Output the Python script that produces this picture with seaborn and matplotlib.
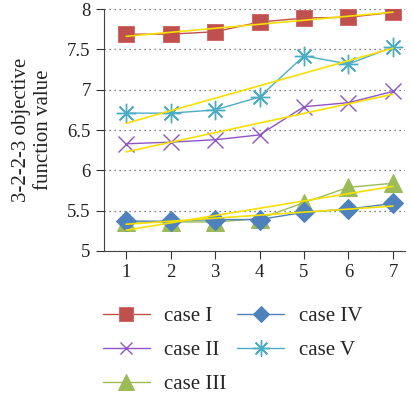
import numpy as np
import pandas as pd
import matplotlib
matplotlib.use('Agg')
import matplotlib.pyplot as plt
import seaborn as sns

# data
steps = [1, 2, 3, 4, 5, 6, 7]
case_1 = [7.69, 7.69, 7.72, 7.84, 7.89, 7.90, 7.96]
case_2 = [6.33, 6.35, 6.38, 6.44, 6.79, 6.84, 6.98]
case_3 = [5.36, 5.36, 5.36, 5.40, 5.60, 5.79, 5.84]
case_4 = [5.37, 5.37, 5.39, 5.39, 5.48, 5.52, 5.59]
case_5 = [6.71, 6.71, 6.75, 6.91, 7.42, 7.32, 7.53]
labels = ['case I', 'case II', 'case III', 'case IV', 'case V']

sns.set_style('ticks')
plt.rcParams['font.family'] = ['Liberation Serif', 'DejaVu Serif']

fig = plt.figure(figsize=(4.12, 3.99), dpi=100)
ax = fig.add_axes([0.252, 0.371, 0.731, 0.606])

styles = [
    dict(color='#C0504D', marker='s', markersize=12, markeredgecolor='#D06A66'),
    dict(color='#9055C4', marker='x', markersize=11, markeredgewidth=1.0, markeredgecolor='#9055C4'),
    dict(color='#9BBB59', marker='^', markersize=13, markeredgecolor='#9BBB59'),
    dict(color='#4F81BD', marker='D', markersize=10, markeredgecolor='#4F81BD'),
    dict(color='#4BACC6', marker=(8, 2, 0), markersize=14, markeredgewidth=1.0, markeredgecolor='#4BACC6'),
]
series = [case_1, case_2, case_3, case_4, case_5]

for vals, lab, st in zip(series, labels, styles):
    sns.lineplot(x=steps, y=vals, ax=ax, label=lab, linewidth=1.0, **st)

# yellow linear trend for each case
for vals in series:
    sns.regplot(x=np.array(steps), y=np.array(vals), ax=ax, ci=None, scatter=False,
                line_kws=dict(color='#F5E000', linewidth=1.2))

ax.set_xlim(0.5, 7.27)
ax.set_ylim(5, 8)
ax.set_xticks(steps)
ax.set_yticks([5, 5.5, 6, 6.5, 7, 7.5, 8])
ax.set_yticklabels(['5', '5.5', '6', '6.5', '7', '7.5', '8'])
ax.yaxis.grid(True, linestyle=(0, (1, 3)), color='#555555', linewidth=0.9)
ax.tick_params(labelsize=13.5, colors='#333333', length=6, labelcolor='#222222')
ax.set_xlabel('')
ax.set_ylabel('3-2-2-3 objective\nfunction value', fontsize=15, color='#222222',
              labelpad=10, linespacing=1.25)
sns.despine(ax=ax)
for sp in ['left', 'bottom']:
    ax.spines[sp].set_color('#444444')

ax.legend(loc='upper left', bbox_to_anchor=(0.25, 0.232), bbox_transform=fig.transFigure,
          ncol=2, frameon=False, fontsize=15, handlelength=2.25, columnspacing=0.5,
          labelspacing=0.69, handletextpad=0.7, borderpad=0, borderaxespad=0,
          markerscale=0.85)

fig.savefig('out.png', dpi=100)
